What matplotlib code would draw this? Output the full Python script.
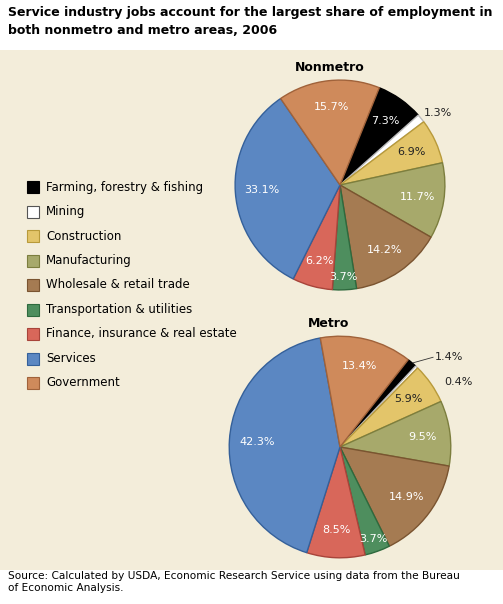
import matplotlib
matplotlib.use("Agg")
import matplotlib.pyplot as plt
import numpy as np
from matplotlib.patches import Rectangle

categories = ["Farming, forestry & fishing", "Mining", "Construction", "Manufacturing",
              "Wholesale & retail trade", "Transportation & utilities",
              "Finance, insurance & real estate", "Services", "Government"]
nonmetro = [7.3, 1.3, 6.9, 11.7, 14.2, 3.7, 6.2, 33.1, 15.7]
metro = [1.4, 0.4, 5.9, 9.5, 14.9, 3.7, 8.5, 42.3, 13.4]

fills = ["#000000", "#ffffff", "#e3c56a", "#a7a96b", "#a57b52", "#4e8e5e",
         "#d8675a", "#5b87c2", "#cf8a5b"]
edges = ["#000000", "#bbbbbb", "#b89a3a", "#7c7e3e", "#7a5430", "#2e6a3e",
         "#a8443a", "#34609a", "#a0623a"]
label_dark = [False, True, True, False, False, False, False, False, False]

W, H = 503, 604
fig = plt.figure(figsize=(W / 100, H / 100), dpi=100)
fig.patch.set_facecolor("white")
fig.patches.append(Rectangle((0, 34 / H), 1, (H - 50 - 34) / H, transform=fig.transFigure,
                             facecolor="#f3edda", edgecolor="none", zorder=-10))
fig.text(8 / W, 1 - 6 / H, "Service industry jobs account for the largest share of employment in\n"
         "both nonmetro and metro areas, 2006", fontsize=9, fontweight="bold",
         va="top", ha="left", linespacing=1.45)
fig.text(8 / W, 33 / H, "Source: Calculated by USDA, Economic Research Service using data from the Bureau\n"
         "of Economic Analysis.", fontsize=7.6, va="top", ha="left", linespacing=1.3)


def draw_pie(cx, cy, r, values, start, title, outside):
    ax = fig.add_axes([(cx - r) / W, (H - cy - r) / H, 2 * r / W, 2 * r / H])
    ax.set_zorder(5)
    ax.patch.set_visible(False)
    wedges, _ = ax.pie(values, colors=fills, startangle=start, counterclock=False,
                       wedgeprops=dict(linewidth=1.0), radius=1.0)
    for w, e in zip(wedges, edges):
        w.set_edgecolor(e)
    ang = start
    for i, v in enumerate(values):
        mid = np.deg2rad(ang - v * 3.6 / 2)
        ang -= v * 3.6
        if i in outside:
            ax.text(*outside[i], f"{v}%", ha="left", va="center",
                    fontsize=8, color="#222222")
            continue
        d = 0.75 if v > 5 else 0.88
        ax.text(d * np.cos(mid), d * np.sin(mid), f"{v}%", ha="center", va="center",
                fontsize=8, color="#222222" if label_dark[i] else "white")
    ax.set_aspect("equal")
    ax.set_xlim(-1.02, 1.02)
    ax.set_ylim(-1.02, 1.02)
    ax.text(-0.1, 1.06, title, ha="center", va="bottom", fontsize=9, fontweight="bold")
    return ax


draw_pie(340, 185, 107, nonmetro, 68, "Nonmetro", {1: (0.8, 0.69)})
ax = draw_pie(340, 447, 113, metro, 52, "Metro", {0: (0.86, 0.81), 1: (0.94, 0.59)})
ax.plot([0.66, 0.84], [0.76, 0.81], color="#333333", lw=0.6)

# legend
for i, (name, f, e) in enumerate(zip(categories, fills, edges)):
    y = H - 187 - i * 24.5
    fig.patches.append(Rectangle((27 / W, (y - 6) / H), 12 / W, 12 / H, transform=fig.transFigure,
                                 facecolor=f, edgecolor="#555555" if i == 1 else e, lw=0.8))
    fig.text(46 / W, y / H, name, fontsize=8.5, va="center", ha="left")

fig.savefig("out.png", dpi=100)
